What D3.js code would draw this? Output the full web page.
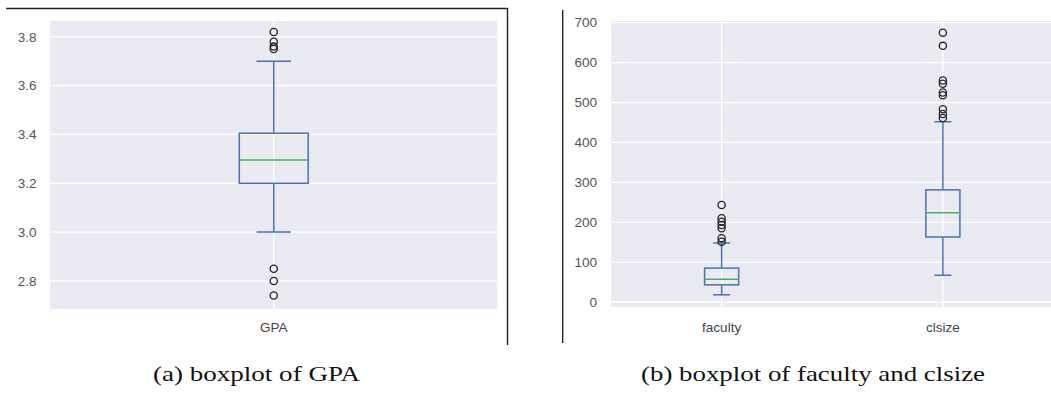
<!DOCTYPE html>
<html>
<head>
<meta charset="utf-8">
<script src="https://cdn.jsdelivr.net/npm/d3@7"></script>
<style>
  html, body { margin: 0; padding: 0; background: #ffffff; }
  svg { display: block; }
  .tick-label { font-family: "Liberation Sans", Arial, sans-serif; font-size: 13.5px; fill: #555555; }
  .cat-label { font-family: "Liberation Sans", Arial, sans-serif; font-size: 13.5px; fill: #444444; }
  .caption { font-family: "Liberation Serif", "DejaVu Serif", serif; font-size: 21px; fill: #111111; }
</style>
</head>
<body>
<svg id="chart" width="1051" height="394"></svg>
<script>
// Panel (a): GPA
const gpaCategories = ["GPA"];
// [lower whisker, Q1, median, Q3, upper whisker]
const gpaStats = [[3.00, 3.20, 3.295, 3.405, 3.70]];
const gpaOutliers = [[3.82, 3.78, 3.76, 3.75, 2.85, 2.80, 2.74]];
const gpaTicks = [2.8, 3.0, 3.2, 3.4, 3.6, 3.8];

// Panel (b): faculty and clsize
const sizeCategories = ["faculty", "clsize"];
const sizeStats = [
  [18, 43, 57, 85, 148],
  [67, 163, 224, 281, 452]
];
const sizeOutliers = [
  [243, 210, 201, 193, 185, 160, 151],
  [675, 642, 555, 547, 525, 518, 483, 471, 461]
];
const sizeTicks = [0, 100, 200, 300, 400, 500, 600, 700];

const captions = ["(a) boxplot of GPA", "(b) boxplot of faculty and clsize"];

const BG = "#EAEAF2";
const BOX = "#4C72B0";
const MEDIAN = "#55A868";
const BOX_WIDTH = 0.154;   // in category units

const svg = d3.select("#chart");

function boxPanel(cfg) {
  const g = svg.append("g");
  const clipId = "clip-" + cfg.id;
  svg.append("defs").append("clipPath").attr("id", clipId)
    .append("rect")
    .attr("x", cfg.plot.left).attr("y", cfg.plot.top)
    .attr("width", cfg.plot.visibleRight - cfg.plot.left)
    .attr("height", cfg.plot.bottom - cfg.plot.top);

  const x = d3.scaleLinear()
    .domain([0.5, cfg.categories.length + 0.5])
    .range([cfg.plot.left, cfg.plot.right]);
  const y = d3.scaleLinear()
    .domain(cfg.yDomain)
    .range([cfg.plot.bottom, cfg.plot.top]);

  const area = g.append("g").attr("clip-path", `url(#${clipId})`);
  area.append("rect")
    .attr("x", cfg.plot.left).attr("y", cfg.plot.top)
    .attr("width", cfg.plot.right - cfg.plot.left)
    .attr("height", cfg.plot.bottom - cfg.plot.top)
    .attr("fill", BG);

  // grid
  area.selectAll("line.hgrid").data(cfg.ticks).join("line")
    .attr("x1", cfg.plot.left).attr("x2", cfg.plot.right)
    .attr("y1", d => y(d)).attr("y2", d => y(d))
    .attr("stroke", "#ffffff").attr("stroke-width", 1.3);
  area.selectAll("line.vgrid").data(cfg.categories).join("line")
    .attr("x1", (d, i) => x(i + 1)).attr("x2", (d, i) => x(i + 1))
    .attr("y1", cfg.plot.top).attr("y2", cfg.plot.bottom)
    .attr("stroke", "#ffffff").attr("stroke-width", 1.3);

  // y tick labels
  g.selectAll("text.ytick").data(cfg.ticks).join("text")
    .attr("class", "tick-label")
    .attr("x", cfg.labelX).attr("y", d => y(d)).attr("dy", "0.35em")
    .attr("text-anchor", "end")
    .text(cfg.tickFormat);

  // category labels
  g.selectAll("text.cat").data(cfg.categories).join("text")
    .attr("class", "cat-label")
    .attr("x", (d, i) => x(i + 1)).attr("y", cfg.catY)
    .attr("text-anchor", "middle")
    .text(d => d);

  const half = (x(1 + BOX_WIDTH) - x(1)) / 2;
  const boxes = area.selectAll("g.box").data(cfg.stats).join("g");

  boxes.each(function (s, i) {
    const b = d3.select(this);
    const cx = x(i + 1);
    const [lo, q1, med, q3, hi] = s;
    // whiskers
    b.append("line").attr("x1", cx).attr("x2", cx).attr("y1", y(q3)).attr("y2", y(hi))
      .attr("stroke", BOX).attr("stroke-width", 1.5);
    b.append("line").attr("x1", cx).attr("x2", cx).attr("y1", y(q1)).attr("y2", y(lo))
      .attr("stroke", BOX).attr("stroke-width", 1.5);
    // caps
    [lo, hi].forEach(v => {
      b.append("line").attr("x1", cx - half / 2).attr("x2", cx + half / 2)
        .attr("y1", y(v)).attr("y2", y(v))
        .attr("stroke", BOX).attr("stroke-width", 1.5);
    });
    // box
    b.append("rect").attr("x", cx - half).attr("y", y(q3))
      .attr("width", 2 * half).attr("height", y(q1) - y(q3))
      .attr("fill", "none").attr("stroke", BOX).attr("stroke-width", 1.5);
    // median
    b.append("line").attr("x1", cx - half).attr("x2", cx + half)
      .attr("y1", y(med)).attr("y2", y(med))
      .attr("stroke", MEDIAN).attr("stroke-width", 1.5);
    // outliers
    b.selectAll("circle").data(cfg.outliers[i]).join("circle")
      .attr("cx", cx).attr("cy", d => y(d)).attr("r", 3.6)
      .attr("fill", "none").attr("stroke", "#222222").attr("stroke-width", 1.3);
  });
}

boxPanel({
  id: "gpa",
  categories: gpaCategories,
  stats: gpaStats,
  outliers: gpaOutliers,
  ticks: gpaTicks,
  tickFormat: d3.format(".1f"),
  yDomain: [2.685, 3.866],
  plot: { left: 50, right: 497.5, visibleRight: 497.5, top: 20.7, bottom: 309 },
  labelX: 36.5,
  catY: 332
});

boxPanel({
  id: "size",
  categories: sizeCategories,
  stats: sizeStats,
  outliers: sizeOutliers,
  ticks: sizeTicks,
  tickFormat: d3.format("d"),
  yDomain: [-12.5, 705],
  plot: { left: 611, right: 1053.5, visibleRight: 1051, top: 20.7, bottom: 307 },
  labelX: 597,
  catY: 332
});

// frame lines around the sub-figures
const frame = svg.append("g").attr("stroke", "#222222").attr("stroke-width", 1.4);
frame.append("line").attr("x1", 6).attr("x2", 507.5).attr("y1", 8.5).attr("y2", 8.5);
frame.append("line").attr("x1", 507.5).attr("x2", 507.5).attr("y1", 8).attr("y2", 345);
frame.append("line").attr("x1", 562.7).attr("x2", 562.7).attr("y1", 10).attr("y2", 343);

// sub-figure captions
const capPos = [{ x: 153, w: 207 }, { x: 641, w: 344 }];
svg.selectAll("text.caption").data(captions).join("text")
  .attr("class", "caption")
  .attr("x", (d, i) => capPos[i].x).attr("y", 381)
  .attr("textLength", (d, i) => capPos[i].w)
  .attr("lengthAdjust", "spacingAndGlyphs")
  .text(d => d);
</script>
</body>
</html>
